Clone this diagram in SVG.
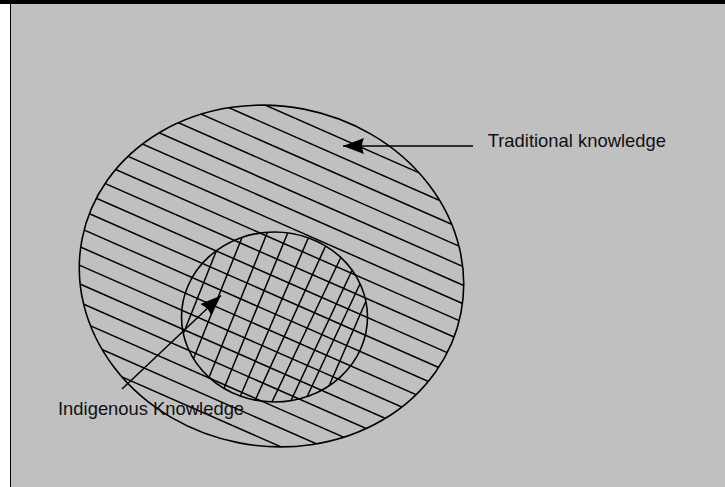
<svg xmlns="http://www.w3.org/2000/svg" width="725" height="487" viewBox="0 0 725 487">
  <style>
    .edge { fill: none; stroke: #000; stroke-width: 1.6; }
    .hatch { stroke: #000; stroke-width: 1.5; fill: none; }
    .lbl { font-family: "Liberation Sans", Arial, sans-serif; font-size: 18.4px; fill: #111; }
    .conn { stroke: #000; stroke-width: 1.5; fill: none; }
  </style>
  <defs>
    <marker id="arrow" markerUnits="userSpaceOnUse" markerWidth="24" markerHeight="18" refX="21" refY="8" orient="auto">
      <path d="M0,0 L21,8 L0,16 Q4,8 0,0 z" fill="#000"/>
    </marker>
    <clipPath id="outerClip">
      <ellipse cx="271.5" cy="276" rx="193" ry="170" transform="rotate(11 271.5 276)"/>
    </clipPath>
    <clipPath id="innerClip">
      <ellipse cx="274.5" cy="317" rx="93" ry="85"/>
    </clipPath>
  </defs>

  <!-- frame -->
  <rect x="0" y="0" width="725" height="487" fill="#fff"/>
  <rect x="11" y="4" width="714" height="483" fill="#c0c0c0"/>
  <rect x="0" y="0" width="725" height="4" fill="#000"/>
  <line x1="10.5" y1="4" x2="10.5" y2="487" stroke="#000" stroke-width="1"/>

  <g id="traditional-knowledge">
    <g clip-path="url(#outerClip)" class="hatch">
      <line x1="60" y1="14.8" x2="480" y2="199.6"/>
      <line x1="60" y1="33.4" x2="480" y2="218.2"/>
      <line x1="60" y1="52.0" x2="480" y2="236.8"/>
      <line x1="60" y1="70.6" x2="480" y2="255.4"/>
      <line x1="60" y1="89.2" x2="480" y2="274.0"/>
      <line x1="60" y1="107.8" x2="480" y2="292.6"/>
      <line x1="60" y1="126.4" x2="480" y2="311.2"/>
      <line x1="60" y1="145.0" x2="480" y2="329.8"/>
      <line x1="60" y1="163.6" x2="480" y2="348.4"/>
      <line x1="60" y1="182.2" x2="480" y2="367.0"/>
      <line x1="60" y1="200.8" x2="480" y2="385.6"/>
      <line x1="60" y1="219.4" x2="480" y2="404.2"/>
      <line x1="60" y1="238.0" x2="480" y2="422.8"/>
      <line x1="60" y1="256.6" x2="480" y2="441.4"/>
      <line x1="60" y1="275.2" x2="480" y2="460.0"/>
      <line x1="60" y1="293.8" x2="480" y2="478.6"/>
      <line x1="60" y1="312.4" x2="480" y2="497.2"/>
      <line x1="60" y1="331.0" x2="480" y2="515.8"/>
      <line x1="60" y1="349.6" x2="480" y2="534.4"/>
    </g>
    <ellipse class="edge" cx="271.5" cy="276" rx="193" ry="170" transform="rotate(11 271.5 276)"/>
  </g>

  <g id="indigenous-knowledge">
    <g class="hatch" clip-path="url(#innerClip)">
      <line x1="218" y1="246.7" x2="182" y2="337"/>
      <line x1="243.7" y1="233.3" x2="193" y2="360"/>
      <line x1="269.7" y1="226.7" x2="208" y2="380"/>
      <line x1="290.3" y1="226.7" x2="223" y2="390.7"/>
      <line x1="310.3" y1="233.3" x2="238.7" y2="400"/>
      <line x1="326" y1="245" x2="253" y2="405"/>
      <line x1="342" y1="255" x2="269.7" y2="406.7"/>
      <line x1="353.7" y1="266.7" x2="289.7" y2="403.3"/>
      <line x1="360.3" y1="283.3" x2="306.3" y2="398.3"/>
      <line x1="369" y1="294" x2="328" y2="388.3"/>
    </g>
    <ellipse class="edge" cx="274.5" cy="317" rx="93" ry="85"/>
  </g>

  <g id="connectors">
    <line class="conn" x1="473" y1="146" x2="343" y2="146" marker-end="url(#arrow)"/>
    <line class="conn" x1="122" y1="389" x2="221" y2="295.5" marker-end="url(#arrow)"/>
  </g>

  <g id="labels">
    <text class="lbl" x="487.7" y="147.3">Traditional knowledge</text>
    <text class="lbl" x="58" y="414.5">Indigenous Knowledge</text>
  </g>
</svg>
